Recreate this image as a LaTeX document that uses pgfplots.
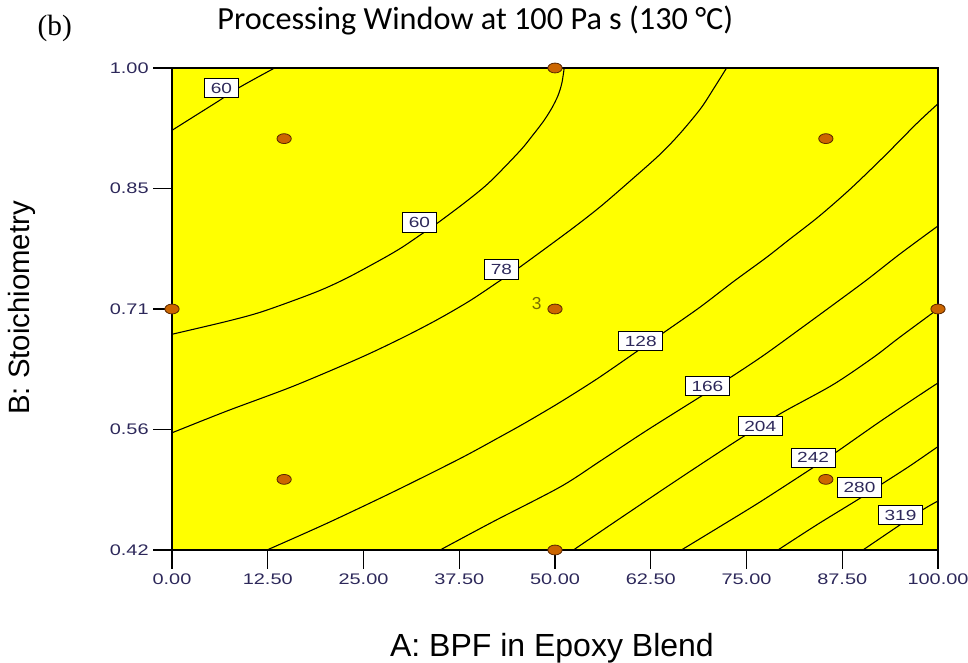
\documentclass[border=0pt]{standalone}
\usepackage{graphicx}
\usepackage{pgfplots}
\pgfplotsset{compat=1.18}
\usepackage{fontspec}
\setmainfont{Liberation Sans}
\newfontfamily\carlito{Carlito}
\newfontfamily\serifb{Liberation Serif}
\definecolor{tickc}{RGB}{45,40,90}
\definecolor{bgy}{RGB}{255,255,0}
\definecolor{ptfill}{RGB}{204,102,0}
\definecolor{ptdraw}{RGB}{90,40,0}
\definecolor{threec}{RGB}{120,110,0}
\newcommand{\tl}[1]{\scalebox{1.3}[1]{#1}}
\tikzset{lbl/.style={fill=white, draw=black, line width=0.7pt, inner xsep=4.5pt, inner ysep=1pt, minimum height=14.5pt, font=\fontsize{11}{12}\selectfont, text=tickc}}
\begin{document}
\begin{tikzpicture}
\useasboundingbox (-129pt,-84pt) rectangle (597pt,412.5pt);
\begin{axis}[
  at={(0,0)}, anchor=south west,
  scale only axis, width=574.5pt, height=361.5pt,
  xmin=0, xmax=100, ymin=0.42, ymax=1.0,
  axis background/.style={fill=bgy},
  axis line style={line width=1pt},
  tick pos=left, tick align=outside, major tick length=14pt,
  tick style={black, line width=0.8pt},
  xtick={0,12.5,25,37.5,50,62.5,75,87.5,100},
  xticklabels={\tl{0.00},\tl{12.50},\tl{25.00},\tl{37.50},\tl{50.00},\tl{62.50},\tl{75.00},\tl{87.50},\tl{100.00}},
  ytick={0.42,0.565,0.71,0.855,1.0},
  yticklabels={\tl{0.42},\tl{0.56},\tl{0.71},\tl{0.85},\tl{1.00}},
  ticklabel style={font=\fontsize{11.5}{12}\selectfont, text=tickc},
  xlabel={A: BPF in Epoxy Blend},
  ylabel={B: Stoichiometry},
  xlabel style={at={(axis description cs:0.496,-0.203)}, anchor=center, font=\fontsize{24}{28}\selectfont},
  ylabel style={at={(axis description cs:-0.196,0.502)}, anchor=center, font=\fontsize{22}{26}\selectfont},
  title={Processing Window at 100 Pa s (130 °C)},
  title style={at={(axis description cs:0.396,1.083)}, anchor=center, font=\carlito\fontsize{24.2}{28}\selectfont},
  clip=false,
  every axis plot/.append style={black, line width=0.8pt},
]
% contour 60 (upper left)
\addplot[smooth] coordinates {(0,0.925) (3.1,0.943) (6.2,0.961) (8.5,0.975) (11,0.988) (13.4,1.0)};
% contour 60
\addplot[smooth] coordinates {(0,0.6796) (7.1,0.695) (11.5,0.706) (16.7,0.723) (20,0.735) (23.2,0.749) (27.6,0.771) (30,0.784) (32.4,0.799) (34.6,0.813) (38.5,0.84) (41.5,0.863) (45.4,0.9) (47,0.918) (48.5,0.936) (49.6,0.952) (50.4,0.967) (50.9,0.982) (51.2,1.0)};
% contour 78
\addplot[smooth] coordinates {(0,0.561) (7.1,0.587) (15.8,0.617) (24.5,0.651) (30,0.675) (34.6,0.697) (38.9,0.72) (42.8,0.744) (45.2,0.759) (52,0.805) (55.9,0.833) (59.8,0.864) (63.7,0.896) (66.3,0.921) (69.0,0.951) (70.7,0.975) (72.4,1.0)};
% contour 128
\addplot[smooth] coordinates {(12.4,0.42) (20.2,0.452) (28.9,0.49) (37.6,0.53) (42.8,0.556) (46.3,0.574) (50.7,0.598) (55.5,0.626) (60.7,0.659) (64.1,0.681) (68.9,0.712) (73.3,0.743) (77.6,0.772) (80.5,0.793) (84.4,0.821) (88.5,0.854) (92.9,0.893) (97.2,0.933) (100,0.957)};
% contour 166
\addplot[smooth] coordinates {(35.0,0.42) (41.9,0.454) (50.7,0.496) (55.9,0.527) (62,0.564) (68.9,0.604) (72.8,0.627) (77.2,0.654) (82.0,0.686) (86.3,0.715) (90.7,0.745) (95.0,0.776) (100,0.81)};
% contour 204
\addplot[smooth] coordinates {(52.4,0.42) (58,0.455) (64.6,0.496) (70,0.529) (74.5,0.556) (79.6,0.585) (86.3,0.619) (91.6,0.652) (95,0.676) (100,0.71)};
% contour 242
\addplot[smooth] coordinates {(66.5,0.42) (71.5,0.448) (76.8,0.478) (83.5,0.518) (86.6,0.537) (92.5,0.575) (98.5,0.612) (100,0.621)};
% contour 280
\addplot[smooth] coordinates {(79.1,0.42) (84.3,0.451) (89.6,0.481) (92.6,0.499) (96.3,0.521) (100,0.5445)};
% contour 319
\addplot[smooth] coordinates {(90.2,0.42) (92.6,0.435) (95,0.45) (98.1,0.469) (100,0.479)};
% design points
\addplot[only marks, mark=*, mark size=3.7pt, mark options={xscale=1.45, fill=ptfill, draw=ptdraw, line width=0.6pt}] coordinates {
(14.64,0.915) (85.36,0.915) (14.64,0.505) (85.36,0.505) (0,0.71) (100,0.71) (50,0.42) (50,1.0) (50,0.71)};
\node[lbl] at (axis cs:6.45,0.9757) {\tl{60}};
\node[lbl] at (axis cs:32.3,0.814) {\tl{60}};
\node[lbl] at (axis cs:43.0,0.7575) {\tl{78}};
\node[lbl] at (axis cs:61.2,0.6715) {\tl{128}};
\node[lbl] at (axis cs:69.9,0.6174) {\tl{166}};
\node[lbl] at (axis cs:76.8,0.569) {\tl{204}};
\node[lbl] at (axis cs:83.7,0.531) {\tl{242}};
\node[lbl] at (axis cs:89.75,0.4952) {\tl{280}};
\node[lbl] at (axis cs:95.1,0.4619) {\tl{319}};
\node[text=threec, font=\fontsize{13}{15}\selectfont] at (axis cs:47.6,0.717) {3};
\node[font=\serifb\fontsize{22}{26}\selectfont] at (axis description cs:-0.153,1.083) {(b)};
\end{axis}
\end{tikzpicture}
\end{document}
